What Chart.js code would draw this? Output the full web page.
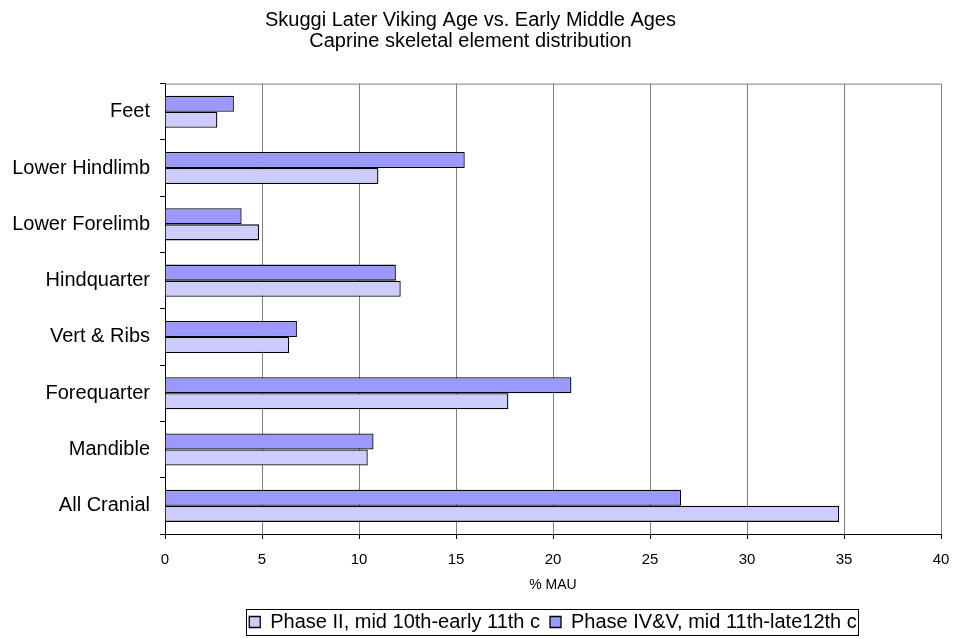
<!DOCTYPE html>
<html>
<head>
<meta charset="utf-8">
<script src="https://cdn.jsdelivr.net/npm/chart.js@4"></script>
<style>
  html, body { margin: 0; padding: 0; background: #fff; }
  #wrap { width: 953px; height: 639px; }
</style>
</head>
<body>
<div id="wrap"><canvas id="chart" width="953" height="639"></canvas></div>
<script>
const categories = ["Feet", "Lower Hindlimb", "Lower Forelimb", "Hindquarter",
                    "Vert & Ribs", "Forequarter", "Mandible", "All Cranial"];
const phaseII = [2.7, 11.0, 4.85, 12.15, 6.4, 17.7, 10.45, 34.75];
const phaseIVV = [3.55, 15.45, 3.95, 11.9, 6.8, 20.95, 10.75, 26.6];
const xTicks = [0, 5, 10, 15, 20, 25, 30, 35, 40];

const FONT = "'Liberation Sans', Arial, sans-serif";

// gray top border of the plot, legend centred under the plot, box round the legend
const frame = {
  id: "frame",
  afterLayout(chart) {
    const a = chart.chartArea;
    const lg = chart.legend;
    const shift = (a.left + a.right) / 2 - (lg.left + lg.right) / 2;
    lg.left += shift;
    lg.right += shift;
    lg.top += 3;
    lg.bottom += 3;
  },
  beforeDatasetsDraw(chart) {
    const { ctx, chartArea: a } = chart;
    ctx.save();
    ctx.strokeStyle = "#808080";
    ctx.lineWidth = 1;
    ctx.beginPath();
    ctx.moveTo(a.left, a.top + 0.5);
    ctx.lineTo(a.right, a.top + 0.5);
    ctx.stroke();
    ctx.restore();
  },
  afterDraw(chart) {
    const boxes = chart.legend.legendHitBoxes;
    if (!boxes || !boxes.length) return;
    const ctx = chart.ctx;
    const l = Math.min(...boxes.map(b => b.left)) - 3;
    const r = Math.max(...boxes.map(b => b.left + b.width)) + 2;
    const t = Math.min(...boxes.map(b => b.top)) - 3;
    const h = boxes[0].height + 6;
    ctx.save();
    ctx.strokeStyle = "#000";
    ctx.lineWidth = 1;
    ctx.strokeRect(Math.round(l) + 0.5, Math.round(t) + 0.5, Math.round(r - l), Math.round(h));
    ctx.restore();
  }
};

new Chart(document.getElementById("chart"), {
  type: "bar",
  data: {
    labels: categories,
    datasets: [{
      label: "Phase IV&V, mid 11th-late12th c",
      data: phaseIVV,
      backgroundColor: "#9999ff",
      borderColor: "#000",
      borderWidth: 1.3
    }, {
      label: "Phase II, mid 10th-early 11th c",
      data: phaseII,
      backgroundColor: "#ccccff",
      borderColor: "#000",
      borderWidth: 1.3
    }]
  },
  options: {
    indexAxis: "y",
    responsive: false,
    animation: false,
    categoryPercentage: 0.57,
    barPercentage: 1,
    layout: { padding: { left: 0, right: 12, top: 0, bottom: 0 } },
    plugins: {
      title: {
        display: true,
        text: ["Skuggi Later Viking Age vs. Early Middle Ages", "Caprine skeletal element distribution"],
        color: "#000",
        font: { family: FONT, size: 20, weight: "normal", lineHeight: 1.04 },
        padding: { top: 10, bottom: 32 }
      },
      legend: {
        position: "bottom",
        reverse: true,
        labels: {
          color: "#000",
          font: { family: FONT, size: 20 },
          boxWidth: 11,
          boxHeight: 11,
          padding: 10
        }
      },
      tooltip: { enabled: false }
    },
    scales: {
      x: {
        min: 0,
        max: 40,
        afterBuildTicks(scale) { scale.ticks = xTicks.map(v => ({ value: v })); },
        afterFit(scale) {
          scale.height = 65;
          scale.paddingLeft = 0;
          scale.paddingRight = 0;
        },
        grid: { color: "#808080", tickColor: "#000", tickLength: 5 },
        border: { color: "#000" },
        ticks: { color: "#000", font: { family: FONT, size: 15 }, padding: 12 },
        title: { display: true, text: "% MAU", color: "#000", font: { family: FONT, size: 14 }, padding: { top: 4, bottom: 5 } }
      },
      y: {
        afterFit(scale) { scale.width = 165; },
        grid: { offset: true, drawOnChartArea: false, tickColor: "#000", tickLength: 5 },
        border: { color: "#000" },
        ticks: { color: "#000", font: { family: FONT, size: 20 }, padding: 10 }
      }
    }
  },
  plugins: [frame]
});
</script>
</body>
</html>
